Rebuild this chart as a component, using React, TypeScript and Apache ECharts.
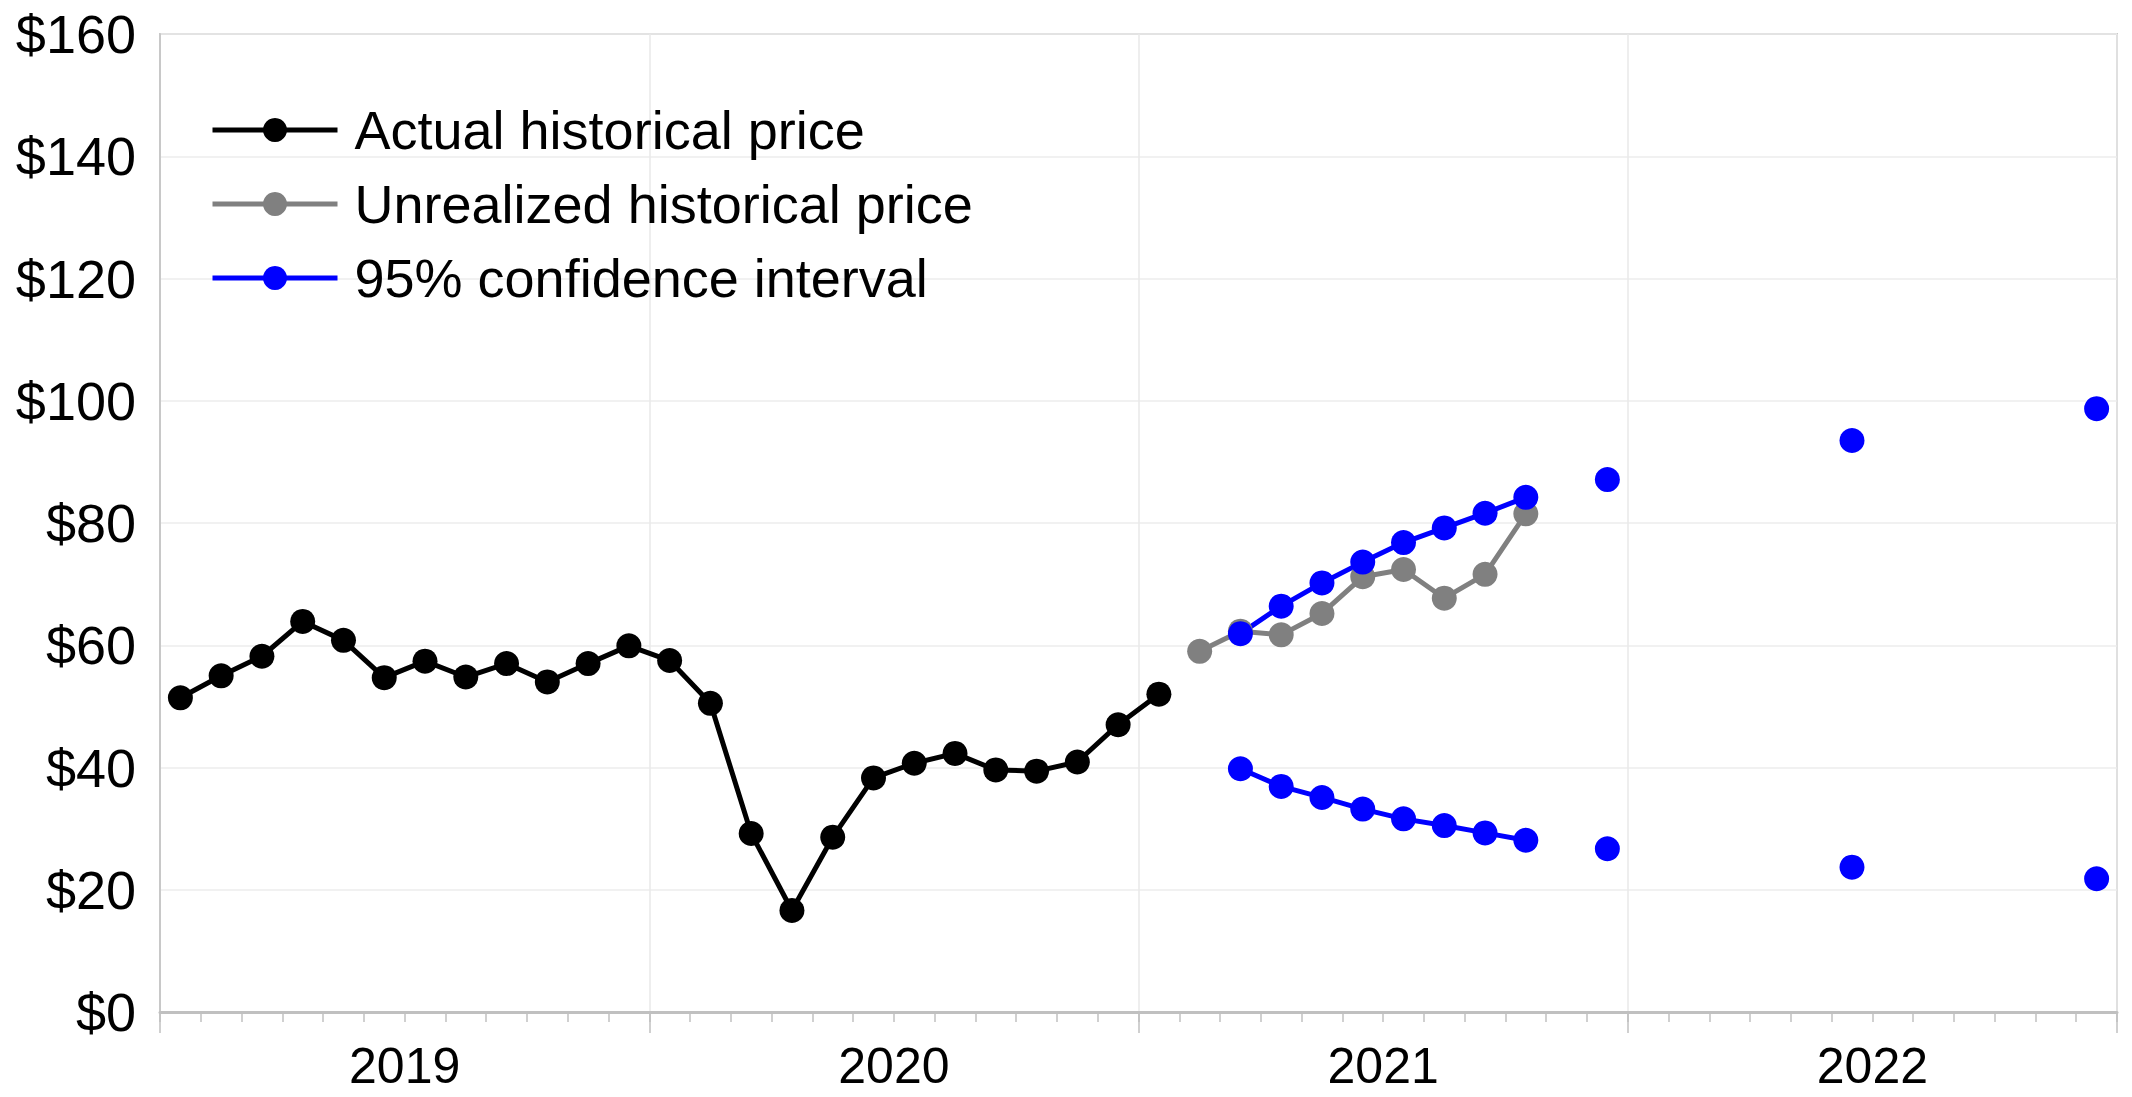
import React, { useEffect, useRef } from "react";
import * as echarts from "echarts";

const years = ["2019", "2020", "2021", "2022"];
const monthNums = ["01", "02", "03", "04", "05", "06", "07", "08", "09", "10", "11", "12"];
const months: string[] = [];
years.forEach((y) => monthNums.forEach((m) => months.push(`${y}-${m}`)));

const yTicks = [0, 20, 40, 60, 80, 100, 120, 140, 160];

// Actual historical price, Jan 2019 – Jan 2021
const actualStart = "2019-01";
const actual = [
  51.4, 55.0, 58.2, 63.9, 60.8, 54.7, 57.4, 54.8, 57.0, 54.0, 57.0, 59.9,
  57.5, 50.5, 29.2, 16.6, 28.6, 38.3, 40.7, 42.3, 39.6, 39.4, 40.9, 47.0,
  52.0,
];

// Unrealized historical price, Feb 2021 – Oct 2021
const unrealizedStart = "2021-02";
const unrealized = [59.0, 62.3, 61.7, 65.2, 71.2, 72.4, 67.7, 71.6, 81.5];

// 95% confidence interval bounds
const upperCI: [string, number][] = [
  ["2021-03", 61.9], ["2021-04", 66.4], ["2021-05", 70.2], ["2021-06", 73.6],
  ["2021-07", 76.8], ["2021-08", 79.2], ["2021-09", 81.6], ["2021-10", 84.2],
  ["2021-12", 87.1], ["2022-06", 93.5], ["2022-12", 98.7],
];
const lowerCI: [string, number][] = [
  ["2021-03", 39.8], ["2021-04", 36.9], ["2021-05", 35.1], ["2021-06", 33.2],
  ["2021-07", 31.6], ["2021-08", 30.5], ["2021-09", 29.3], ["2021-10", 28.1],
  ["2021-12", 26.7], ["2022-06", 23.7], ["2022-12", 21.8],
];

function fromRun(start: string, vals: number[]): (number | null)[] {
  const out: (number | null)[] = months.map(() => null);
  const s = months.indexOf(start);
  vals.forEach((v, i) => (out[s + i] = v));
  return out;
}
function fromPairs(pairs: [string, number][]): (number | null)[] {
  const out: (number | null)[] = months.map(() => null);
  pairs.forEach(([m, v]) => (out[months.indexOf(m)] = v));
  return out;
}

const FONT = "'Liberation Sans', Arial, sans-serif";

export default function App() {
  const ref = useRef<HTMLDivElement>(null);
  useEffect(() => {
    if (!ref.current) return;
    const chart = echarts.init(ref.current, undefined, { renderer: "svg" });
    const lineSeries = (name: string, data: (number | null)[], color: string) => ({
      name,
      type: "line",
      data,
      xAxisIndex: 0,
      symbol: "circle",
      symbolSize: 25,
      showSymbol: true,
      connectNulls: false,
      itemStyle: { color },
      lineStyle: { color, width: 5 },
      emphasis: { disabled: true },
    });
    chart.setOption({
      animation: false,
      backgroundColor: "#ffffff",
      textStyle: { fontFamily: FONT },
      grid: {
        left: 160,
        top: 34,
        right: 15,
        bottom: 85,
        show: true,
        borderColor: "#c8c8c8",
        borderWidth: 2,
        backgroundColor: "transparent",
      },
      legend: {
        left: 205,
        top: 98,
        orient: "vertical",
        itemWidth: 125,
        itemHeight: 30,
        itemGap: 20,
        lineStyle: { width: 5 },
        data: ["Actual historical price", "Unrealized historical price", "95% confidence interval"],
        textStyle: {
          fontFamily: FONT,
          fontSize: 54,
          lineHeight: 54,
          color: "#000",
          padding: [0, 0, 0, 12],
        },
      },
      xAxis: [
        {
          type: "category",
          data: months,
          boundaryGap: true,
          position: "bottom",
          axisLine: { show: true, lineStyle: { color: "#c0c0c0", width: 3 } },
          axisTick: { show: true, interval: 0, length: 10, lineStyle: { color: "#c0c0c0", width: 1.5 } },
          axisLabel: { show: false },
          splitLine: { show: false },
        },
        {
          type: "category",
          data: years,
          boundaryGap: true,
          position: "bottom",
          axisLine: { show: false },
          axisTick: { show: true, interval: 0, length: 21, lineStyle: { color: "#c0c0c0", width: 1.5 } },
          axisLabel: {
            show: true,
            interval: 0,
            margin: 32,
            fontSize: 50,
            lineHeight: 44,
            fontFamily: FONT,
            color: "#000",
          },
          splitLine: { show: true, interval: 0, lineStyle: { color: "#e8e8e8", width: 1.5 } },
        },
      ],
      yAxis: {
        type: "value",
        min: yTicks[0],
        max: yTicks[yTicks.length - 1],
        interval: 20,
        axisLine: { show: true, lineStyle: { color: "#c8c8c8", width: 2 } },
        axisTick: { show: false },
        axisLabel: {
          margin: 24,
          fontSize: 54,
          fontFamily: FONT,
          color: "#000",
          formatter: (v: number) => `$${v}`,
        },
        splitLine: { show: true, lineStyle: { color: "#ececec", width: 1.5 } },
      },
      series: [
        lineSeries("Actual historical price", fromRun(actualStart, actual), "#000000"),
        lineSeries("Unrealized historical price", fromRun(unrealizedStart, unrealized), "#808080"),
        lineSeries("95% confidence interval", fromPairs(upperCI), "#0000ff"),
        lineSeries("95% confidence interval", fromPairs(lowerCI), "#0000ff"),
      ],
    });
    return () => chart.dispose();
  }, []);
  return (
    <div
      ref={ref}
      style={{ position: "fixed", left: 0, top: 0, width: 2132, height: 1097 }}
    />
  );
}
